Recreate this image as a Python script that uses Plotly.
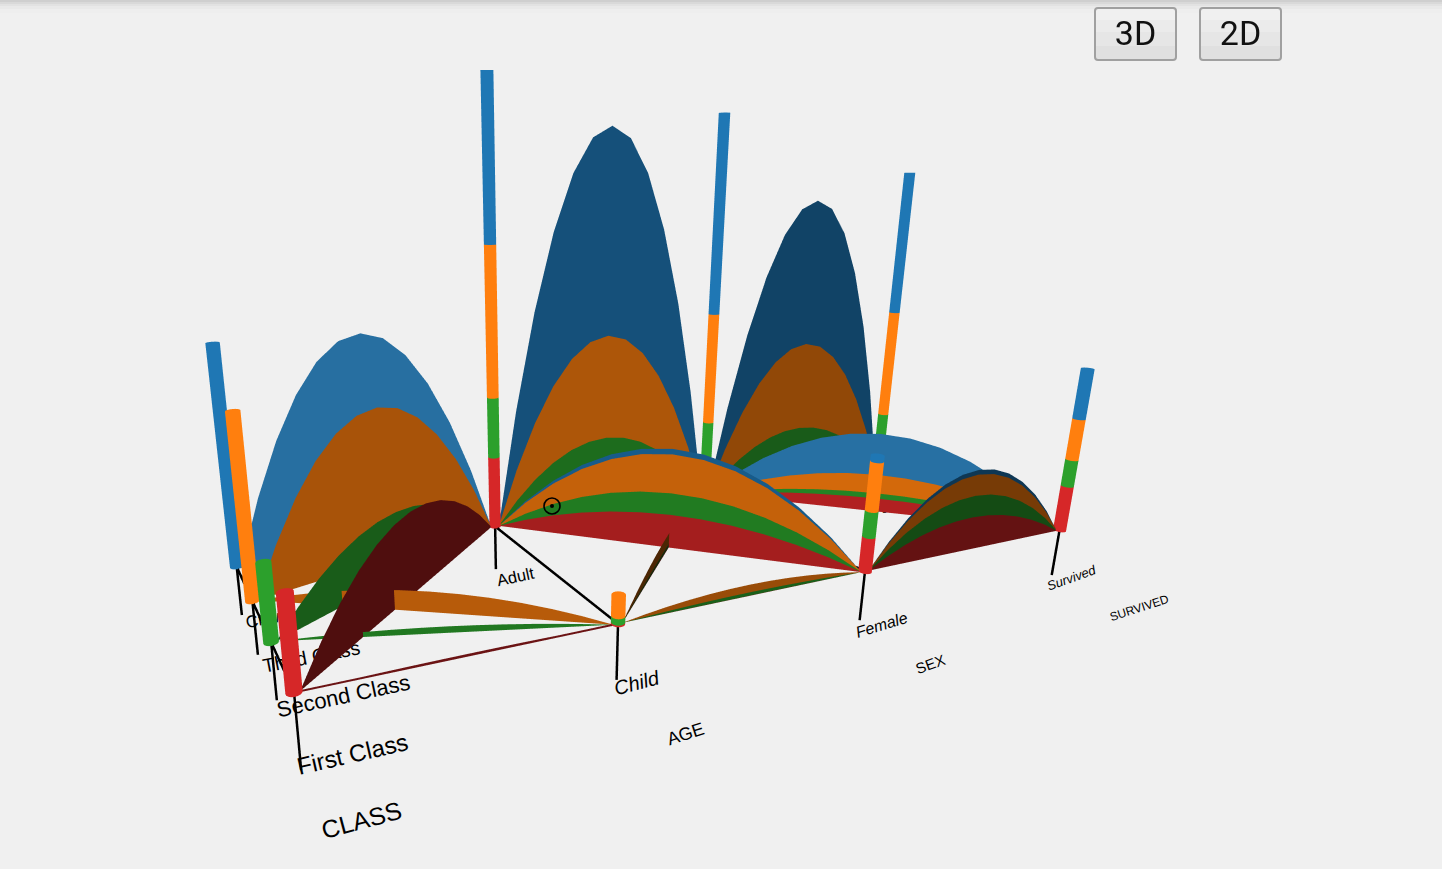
import math
import plotly.graph_objects as go

# ---------- data (Titanic passengers, read from stack heights) ----------
CLASSES = ["First Class", "Second Class", "Third Class", "Crew"]
AGES = ["Child", "Adult"]
SEXES = ["Female", "Male"]
OUTCOMES = ["Survived", "Perished"]
AXIS_TITLES = ["CLASS", "AGE", "SEX", "SURVIVED"]

# each list is ordered First, Second, Third, Crew
CHILD_BY_CLASS = [6, 24, 79, 0]
ADULT_BY_CLASS = [319, 261, 627, 885]
CHILD_FEMALE = [1, 13, 31, 0]
CHILD_MALE = [5, 11, 48, 0]
ADULT_FEMALE = [144, 93, 165, 23]
ADULT_MALE = [175, 168, 462, 862]
FEMALE_SURVIVED = [141, 93, 90, 20]
FEMALE_PERISHED = [4, 13, 106, 3]
MALE_SURVIVED = [62, 25, 88, 192]
MALE_PERISHED = [118, 154, 422, 670]

# ---------- style ----------
W, H = 1442, 869
BG = "#f0f0f0"
CLASS_RGB = [(214, 39, 40), (44, 160, 44), (255, 127, 14), (31, 119, 180)]
ORIGIN = (-0.518, 1.534)
AXIS_STEP = (0.683, 0.283)
CAT_STEP = (-0.325, 0.595)
HEIGHT_PER_COUNT = 0.000693
BAR_RADIUS = 0.017
TIP_OFFSET = 0.012
ARC_SEGMENTS = 12
TICK_DEPTH = [[0.186, 0.15, 0.15, 0.145], [0.15, 0.141], [0.145, 0.15], [0.147, 0.15]]
CAT_POS = [[0, 1 / 3, 2 / 3, 1], [0, 1], [0, 1], [0, 1]]

PITCH = math.radians(15.77)
SCENE_UNIT = 1 / 8
SCENE_TOP, SCENE_BOTTOM, SCENE_RIGHT = 70, 780, 1096


def ground(axis, t):
    return (ORIGIN[0] + axis * AXIS_STEP[0] + t * CAT_STEP[0],
            ORIGIN[1] + axis * AXIS_STEP[1] + t * CAT_STEP[1])


def rgb(base, shade, lift=0):
    return "rgb(%d,%d,%d)" % tuple(min(255, int(c * shade + lift)) for c in base)


FLAT = dict(ambient=1, diffuse=0, specular=0, roughness=1, fresnel=0)
fig = go.Figure()


def add_band(p, q, lo, hi, color):
    """Arched curtain between ground points p and q, from count lo up to count hi."""
    n = math.hypot(*AXIS_STEP)
    ux, uy = AXIS_STEP[0] / n, AXIS_STEP[1] / n
    ax, ay = p[0] + ux * TIP_OFFSET, p[1] + uy * TIP_OFFSET
    bx, by = q[0] - ux * TIP_OFFSET, q[1] - uy * TIP_OFFSET
    xs, ys, zs, ti, tj, tk = [], [], [], [], [], []
    for k in range(ARC_SEGMENTS + 1):
        u = k / ARC_SEGMENTS
        arch = 4 * u * (1 - u)
        for c in (lo, hi):
            xs.append(ax + (bx - ax) * u)
            ys.append(ay + (by - ay) * u)
            zs.append(c * HEIGHT_PER_COUNT * arch)
    for k in range(ARC_SEGMENTS):
        a, b, c, d = 2 * k, 2 * k + 1, 2 * k + 2, 2 * k + 3
        if k > 0:
            ti.append(a); tj.append(c); tk.append(b)
        if k < ARC_SEGMENTS - 1:
            ti.append(b); tj.append(c); tk.append(d)
    fig.add_trace(go.Mesh3d(x=xs, y=ys, z=zs, i=ti, j=tj, k=tk, color=color, opacity=1,
                            flatshading=True, lighting=FLAT, hoverinfo="skip", showscale=False))


def add_stack(p, q, counts, shade, blue_lift=0):
    total = 0
    for cls, c in enumerate(counts):
        if c:
            lift = blue_lift if cls == 3 else 0
            add_band(p, q, total, total + c, rgb(CLASS_RGB[cls], shade, lift))
        total += c


def add_cylinder(p, lo, hi, color):
    xs, ys, zs, ti, tj, tk = [], [], [], [], [], []
    sides = 16
    for s in range(sides):
        ang = 2 * math.pi * s / sides
        for c in (lo, hi):
            xs.append(p[0] + BAR_RADIUS * math.cos(ang))
            ys.append(p[1] + BAR_RADIUS * math.sin(ang))
            zs.append(c * HEIGHT_PER_COUNT)
    for s in range(sides):
        a, b = 2 * s, 2 * s + 1
        c, d = 2 * ((s + 1) % sides), 2 * ((s + 1) % sides) + 1
        ti += [a, b]; tj += [c, c]; tk += [b, d]
    for s in range(1, sides - 1):
        ti.append(1); tj.append(2 * s + 1); tk.append(2 * s + 3)
        ti.append(0); tj.append(2 * s); tk.append(2 * s + 2)
    fig.add_trace(go.Mesh3d(x=xs, y=ys, z=zs, i=ti, j=tj, k=tk, color=color, opacity=1,
                            flatshading=True, lighting=FLAT, hoverinfo="skip", showscale=False))


def add_line(pts, width, color="#000000"):
    fig.add_trace(go.Scatter3d(x=[p[0] for p in pts], y=[p[1] for p in pts], z=[p[2] for p in pts],
                               mode="lines", line=dict(color=color, width=width),
                               hoverinfo="skip", showlegend=False))


# ---------- ribbons ----------
CLASS_SHADE_ADULT = [0.37, 0.58, 0.66, 0.82]
CLASS_SHADE_CHILD = [0.5, 0.75, 0.72, 0.8]
for cls in range(4):
    p = ground(0, CAT_POS[0][cls])
    if CHILD_BY_CLASS[cls]:
        add_band(p, ground(1, 0), 0, CHILD_BY_CLASS[cls], rgb(CLASS_RGB[cls], CLASS_SHADE_CHILD[cls]))
    add_band(p, ground(1, 1), 0, ADULT_BY_CLASS[cls],
             rgb(CLASS_RGB[cls], CLASS_SHADE_ADULT[cls], 14 if cls == 3 else 0))
# the very thin First Class to Child ribbon keeps a visible edge
first, child = ground(0, 0), ground(1, 0)
add_line([(first[0], first[1], 0), (child[0], child[1], 0)], 4, rgb(CLASS_RGB[0], 0.5))

add_stack(ground(1, 0), ground(2, 0), CHILD_FEMALE, 0.6)
add_stack(ground(1, 0), ground(2, 1), CHILD_MALE, 0.3)
add_stack(ground(1, 1), ground(2, 0), ADULT_FEMALE, 0.77)
add_stack(ground(1, 1), ground(2, 1), ADULT_MALE, 0.68)
add_stack(ground(2, 0), ground(3, 0), FEMALE_SURVIVED, 0.47)
add_stack(ground(2, 0), ground(3, 1), FEMALE_PERISHED, 0.5)
add_stack(ground(2, 1), ground(3, 0), MALE_SURVIVED, 0.83, 14)
add_stack(ground(2, 1), ground(3, 1), MALE_PERISHED, 0.57)

# ---------- stacked bars ----------
sex_totals = [[a + b for a, b in zip(CHILD_FEMALE, ADULT_FEMALE)],
              [a + b for a, b in zip(CHILD_MALE, ADULT_MALE)]]
outcome_totals = [[a + b for a, b in zip(FEMALE_SURVIVED, MALE_SURVIVED)],
                  [a + b for a, b in zip(FEMALE_PERISHED, MALE_PERISHED)]]
for cls in range(4):
    add_cylinder(ground(0, CAT_POS[0][cls]), 0, CHILD_BY_CLASS[cls] + ADULT_BY_CLASS[cls],
                 rgb(CLASS_RGB[cls], 1))
for axis, stacks in ((1, [CHILD_BY_CLASS, ADULT_BY_CLASS]), (2, sex_totals), (3, outcome_totals)):
    for cat, counts in enumerate(stacks):
        total = 0
        for cls, c in enumerate(counts):
            if c:
                add_cylinder(ground(axis, cat), total, total + c, rgb(CLASS_RGB[cls], 1))
            total += c

# ---------- axis lines and ticks ----------
for axis, positions in enumerate(CAT_POS):
    a, b = ground(axis, positions[0]), ground(axis, positions[-1])
    add_line([(a[0], a[1], 0), (b[0], b[1], 0)], 5)
    for cat, t in enumerate(positions):
        g = ground(axis, t)
        add_line([(g[0], g[1], 0), (g[0], g[1], -TICK_DEPTH[axis][cat])], 5)


# ---------- labels: below the 3D canvas so the ribbons hide them ----------
def px(x):
    return x / W


def py(y):
    return 1 - y / H


shapes = []


def add_label(text, cx, cy, size, angle, italic=False):
    shapes.append(dict(type="line", xref="paper", yref="paper", layer="below",
                       x0=px(cx - 1), x1=px(cx + 1), y0=py(cy), y1=py(cy),
                       line=dict(width=0, color="rgba(0,0,0,0)"),
                       label=dict(text=f"<i>{text}</i>" if italic else text,
                                  textangle=angle, textposition="middle",
                                  xanchor="center", yanchor="middle", padding=0,
                                  font=dict(family="Liberation Sans", size=size, color="#000000"))))


LABEL_STYLE = [
    (CLASSES[0], 352, 752, 24, -13), (CLASSES[1], 343, 694, 22, -12),
    (CLASSES[2], 311, 655, 19.5, -11), (CLASSES[3], 265, 617, 17, -11),
    (AGES[0], 636, 681, 20, -15, True), (AGES[1], 515, 575, 16.5, -12),
    (SEXES[0], 881, 623, 16, -17, True), (SEXES[1], 718, 533, 13, -15, True),
    (OUTCOMES[0], 1071, 577, 13, -20, True), (OUTCOMES[1], 895, 505, 11, -15, True),
    (AXIS_TITLES[0], 361, 818, 25, -15), (AXIS_TITLES[1], 685, 732, 18, -18),
    (AXIS_TITLES[2], 930, 663, 15, -20), (AXIS_TITLES[3], 1139, 607, 12, -18),
]
for item in LABEL_STYLE:
    add_label(*item)

# top edge shadow
for y0, y1, c in [(0, 2, "#cfcfcf"), (2, 4, "#d9d9d9"), (4, 6, "#e2e2e2"), (6, 9, "#e9e9e9"), (9, 13, "#eeeeee")]:
    shapes.append(dict(type="rect", xref="paper", yref="paper", layer="below",
                       x0=0, x1=1, y0=py(y1), y1=py(y0), line=dict(width=0), fillcolor=c))


# buttons, with small rounded corners
def round_rect(x0, y0, x1, y1, r):
    xa, xb, ya, yb = px(x0), px(x1), py(y0), py(y1)
    dx, dy = r / W, r / H
    return (f"M{xa + dx},{ya} L{xb - dx},{ya} Q{xb},{ya} {xb},{ya - dy} L{xb},{yb + dy} "
            f"Q{xb},{yb} {xb - dx},{yb} L{xa + dx},{yb} Q{xa},{yb} {xa},{yb + dy} "
            f"L{xa},{ya - dy} Q{xa},{ya} {xa + dx},{ya} Z")


for text, x0, x1 in [("3D", 1095, 1176), ("2D", 1200, 1281)]:
    for y0, y1, c in [(8, 20, "#f0f0f0"), (20, 32, "#ebebeb"), (32, 46, "#e6e6e6"), (46, 60, "#e0e0e0")]:
        shapes.append(dict(type="rect", xref="paper", yref="paper", layer="above",
                           x0=px(x0), x1=px(x1), y0=py(y1), y1=py(y0), line=dict(width=0), fillcolor=c))
    shapes.append(dict(type="path", xref="paper", yref="paper", layer="above",
                       path=round_rect(x0, 8, x1, 60, 3),
                       line=dict(width=2, color="#a0a0a0"), fillcolor="rgba(0,0,0,0)"))
    shapes.append(dict(type="line", xref="paper", yref="paper", layer="above",
                       x0=px(x0 + 10), x1=px(x1 - 10), y0=py(31), y1=py(31),
                       line=dict(width=0, color="rgba(0,0,0,0)"),
                       label=dict(text=text, textposition="middle", textangle=0,
                                  xanchor="center", yanchor="middle", padding=0,
                                  font=dict(family="Roboto", size=34, color="#111111"))))

# cursor target
for r, fill in [(8, "rgba(0,0,0,0)"), (2, "#000000")]:
    shapes.append(dict(type="circle", xref="paper", yref="paper", layer="above",
                       x0=px(552 - r), x1=px(552 + r), y0=py(506 + r), y1=py(506 - r),
                       line=dict(width=1.6 if r == 8 else 0, color="#000000"), fillcolor=fill))

# ---------- scene ----------
s, c = math.sin(PITCH), math.cos(PITCH)
hidden = dict(visible=False, range=[-4, 4], autorange=False, showspikes=False)
fig.update_layout(
    width=W, height=H, margin=dict(l=0, r=0, t=0, b=0), autosize=False,
    paper_bgcolor=BG, showlegend=False, shapes=shapes,
    scene=dict(
        domain=dict(x=[0, SCENE_RIGHT / W], y=[1 - SCENE_BOTTOM / H, 1 - SCENE_TOP / H]),
        xaxis=hidden, yaxis=hidden, zaxis=hidden,
        aspectmode="manual", aspectratio=dict(x=1, y=1, z=1),
        bgcolor="rgba(0,0,0,0)", dragmode=False,
        camera=dict(eye=dict(x=0, y=0, z=SCENE_UNIT),
                    center=dict(x=0, y=SCENE_UNIT * c, z=SCENE_UNIT * (1 - s)),
                    up=dict(x=0, y=0, z=1),
                    projection=dict(type="perspective")),
    ),
)
fig.write_html("out.html", config=dict(displayModeBar=False),
               post_script="document.body.style.margin='0';document.body.style.overflow='hidden';")
